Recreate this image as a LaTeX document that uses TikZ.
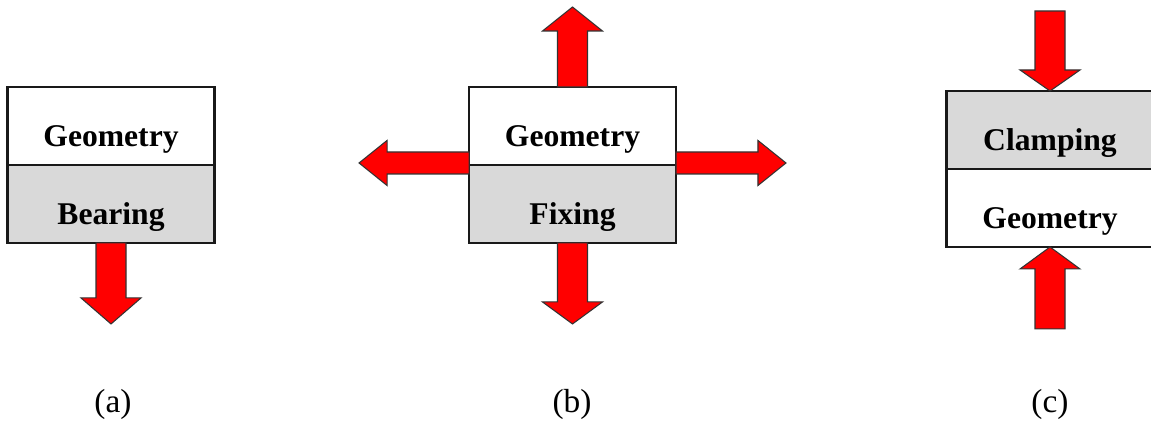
\documentclass[tikz,border=0pt]{standalone}
\usepackage{fontspec}
\setmainfont{Liberation Serif}
\usepackage{tikz}
\usetikzlibrary{positioning,calc}

\begin{document}
\begin{tikzpicture}[
    x=0.02cm, y=0.02cm,
    node distance=0pt,
    cell/.style={draw=black!90, line width=1.2pt, outer sep=0pt, minimum width=4.14cm, minimum height=1.56cm,
        text height=0.84cm, text depth=0pt, font=\fontsize{18}{20}\selectfont\bfseries},
    whitecell/.style={cell, fill=white},
    greycell/.style={cell, fill=gray!30},
    sublbl/.style={font=\fontsize{19}{21}\selectfont},
    arrowfill/.style={fill=red, draw=black!80, line width=0.6pt},
    pics/fatarrow/.style n args={4}{code={
        \draw[arrowfill] (0,-#2/2) -- (#1-#4,-#2/2) -- (#1-#4,-#3/2) -- (#1,0)
            -- (#1-#4,#3/2) -- (#1-#4,#2/2) -- (0,#2/2) -- cycle;
    }}
]
\useasboundingbox (0,0) rectangle (1151,421);

% (a) bearing
\node[whitecell] (ageo) at (111,295) {Geometry};
\node[greycell, below=of ageo] (abear) {Bearing};
\pic[rotate=-90] at (abear.south) {fatarrow={81}{30}{60}{26}};
\node[sublbl] (acap) at (113,17) {(a)};

% (b) fixing
\node[whitecell] (bgeo) at (572.5,295) {Geometry};
\node[greycell, below=of bgeo] (bfix) {Fixing};
\pic[rotate=90] at (bgeo.north) {fatarrow={80}{30}{60}{24}};
\pic[rotate=-90] at (bfix.south) {fatarrow={81}{30}{60}{22}};
\pic[rotate=180] at ($(bgeo.south west)+(0,2)$) {fatarrow={110}{22}{45}{28}};
\pic at ($(bgeo.south east)+(0,2)$) {fatarrow={110}{22}{45}{28}};
\node[sublbl] (bcap) at (572,17) {(b)};

% (c) clamping
\node[greycell] (cclamp) at (1050,291) {Clamping};
\node[whitecell, below=of cclamp] (cgeo) {Geometry};
\pic[rotate=-90] at ($(cclamp.north)+(0,80)$) {fatarrow={80}{30}{60}{21}};
\pic[rotate=90] at ($(cgeo.south)+(0,-82)$) {fatarrow={82}{30}{60}{22}};
\node[sublbl] (ccap) at (1050,17) {(c)};
\end{tikzpicture}
\end{document}
